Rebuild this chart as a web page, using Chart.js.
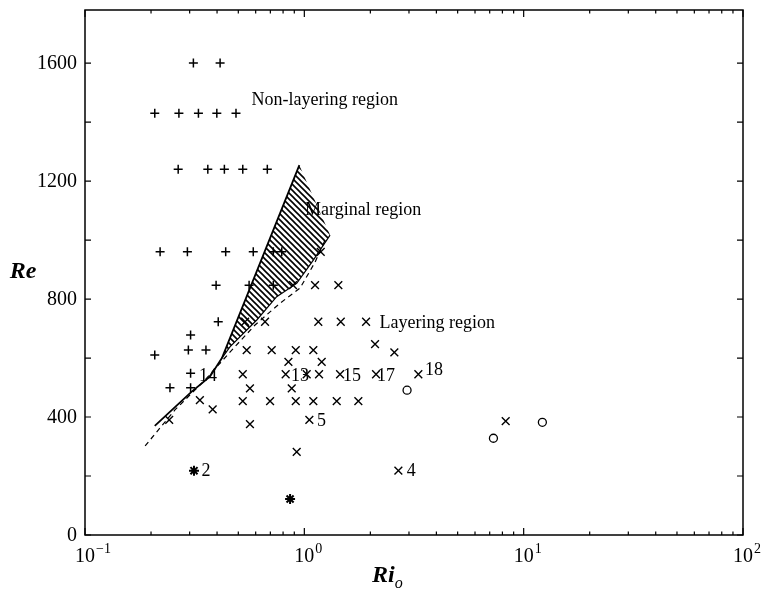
<!DOCTYPE html>
<html>
<head>
<meta charset="utf-8">
<script src="https://cdn.jsdelivr.net/npm/chart.js@4/dist/chart.umd.min.js"></script>
<style>
  html, body { margin: 0; padding: 0; background: #fff; }
  #wrap { width: 761px; height: 597px; }
</style>
</head>
<body>
<div id="wrap"><canvas id="chart" width="761" height="597"></canvas></div>
<script>
// non-layering runs (+)
const plusRi = [0.312, 0.413,
  0.208, 0.268, 0.329, 0.399, 0.488,
  0.266, 0.363, 0.432, 0.524, 0.678,
  0.220, 0.293, 0.438, 0.585, 0.722, 0.789,
  0.396, 0.560, 0.722,
  0.405, 0.303, 0.208, 0.296, 0.356, 0.303, 0.244, 0.303];
const plusRe = [1600, 1600,
  1430, 1430, 1430, 1430, 1430,
  1240, 1240, 1240, 1240, 1240,
  960, 960, 960, 960, 960, 960,
  847, 847, 847,
  723, 678, 610, 627, 627, 548, 499, 499];

// layering runs (x)
const crossRi = [1.188,
  0.888, 1.119, 1.429,
  0.537, 0.662, 1.158, 1.466, 1.912,
  2.101, 2.573,
  0.546, 0.710, 0.914, 1.099,
  0.846, 1.200,
  0.524, 0.822, 1.025, 1.167, 1.455, 2.123, 3.31,
  0.565, 0.876,
  0.334, 0.524, 0.698, 0.914, 1.099, 1.405, 1.763,
  0.382, 0.242, 1.054, 0.565, 0.923, 2.684, 8.28];
const crossRe = [960,
  847, 847, 847,
  723, 723, 723, 723, 723,
  647, 619,
  627, 627, 627, 627,
  587, 587,
  545, 545, 545, 545, 545, 545, 545,
  497, 497,
  457, 454, 454, 454, 454, 454, 454,
  426, 390, 390, 376, 282, 218, 386];

const circleRi = [2.94, 7.28, 12.17];
const circleRe = [491, 328, 382];

const starRi = [0.314, 0.861];
const starRe = [218, 122];

// marginal region (hatched) and its boundaries
const marginRi = [0.421, 0.949, 1.31, 1.099, 0.923, 0.748, 0.607, 0.458, 0.421];
const marginRe = [600, 1254, 1017, 932, 853, 808, 729, 638, 600];
const solidRi = [0.208, 0.3065, 0.371, 0.421, 0.949];
const solidRe = [370, 486, 537, 600, 1254];
const edgeRi = [1.31, 1.099, 0.923, 0.748, 0.607, 0.458, 0.421];
const edgeRe = [1017, 932, 853, 808, 729, 638, 600];
const dashRi = [0.188, 0.257, 0.352, 0.458, 0.596, 0.775, 0.956, 1.119, 1.243];
const dashRe = [302, 424, 525, 620, 712, 786, 837, 925, 1000];

// run numbers
const runText = ['14', '13', '15', '17', '18', '5', '2', '4'];
const runRi = [0.331, 0.870, 1.501, 2.145, 3.55, 1.143, 0.340, 2.93];
const runRe = [537, 539, 539, 539, 559, 384, 215, 215];

const regionText = ['Non-layering region', 'Marginal region', 'Layering region'];
const regionRi = [0.575, 1.007, 2.20];
const regionRe = [1475, 1102, 717];

const xDecades = [0.1, 1, 10, 100];
const xExps = ['\u22121', '0', '1', '2'];
const yLabelled = [0, 400, 800, 1200, 1600];

const pts = (xs, ys) => xs.map((x, i) => ({x: x, y: ys[i]}));
const SERIF = '"Liberation Serif", "DejaVu Serif", serif';

function hatch() {
    const c = document.createElement('canvas');
    c.width = 6; c.height = 6;
    const g = c.getContext('2d');
    g.strokeStyle = '#000';
    g.lineWidth = 1.6;
    g.beginPath();
    g.moveTo(-1, -1); g.lineTo(7, 7);
    g.moveTo(-4, 2); g.lineTo(4, 10);
    g.moveTo(2, -4); g.lineTo(10, 4);
    g.stroke();
    return g.createPattern(c, 'repeat');
}

const decor = {
    id: 'decor',
    afterDraw(chart) {
        const {ctx, chartArea: a, scales: {x, y}} = chart;
        ctx.save();
        ctx.strokeStyle = '#000';
        ctx.fillStyle = '#000';
        ctx.lineWidth = 1.5;
        ctx.strokeRect(a.left, a.top, a.right - a.left, a.bottom - a.top);

        // inward ticks
        ctx.lineWidth = 1.2;
        ctx.beginPath();
        for (let v = 0; v <= 1600; v += 200) {
            const py = y.getPixelForValue(v);
            ctx.moveTo(a.left, py); ctx.lineTo(a.left + 6, py);
            ctx.moveTo(a.right, py); ctx.lineTo(a.right - 6, py);
        }
        for (let d = 0.1; d < 100; d *= 10) {
            for (let m = 1; m <= 10; m++) {
                const px = x.getPixelForValue(d * m);
                const len = (m === 1 || m === 10) ? 7 : 3.5;
                ctx.moveTo(px, a.bottom); ctx.lineTo(px, a.bottom - len);
                ctx.moveTo(px, a.top); ctx.lineTo(px, a.top + len);
            }
        }
        ctx.stroke();

        // y tick labels
        ctx.font = '20px ' + SERIF;
        ctx.textAlign = 'right';
        ctx.textBaseline = 'middle';
        yLabelled.forEach((v) => {
            ctx.fillText(String(v), a.left - 8, y.getPixelForValue(v) + 1);
        });

        // x tick labels 10^n
        xDecades.forEach((v, i) => {
            const px = x.getPixelForValue(v);
            ctx.font = '20px ' + SERIF;
            ctx.textAlign = 'center';
            ctx.textBaseline = 'alphabetic';
            ctx.fillText('10', px, a.bottom + 27);
            const w = ctx.measureText('10').width;
            ctx.font = '14px ' + SERIF;
            ctx.textAlign = 'left';
            ctx.fillText(xExps[i], px + w / 2 + 1, a.bottom + 18);
        });

        // axis titles
        ctx.font = 'italic bold 24px ' + SERIF;
        ctx.textAlign = 'center';
        ctx.textBaseline = 'middle';
        ctx.fillText('Re', 23, 272);
        ctx.textAlign = 'left';
        ctx.textBaseline = 'alphabetic';
        ctx.fillText('Ri', 372, 582);
        const rw = ctx.measureText('Ri').width;
        ctx.font = 'italic 16px ' + SERIF;
        ctx.fillText('o', 372 + rw, 588);

        // region names and run numbers
        ctx.font = '18px ' + SERIF;
        ctx.textBaseline = 'middle';
        regionText.forEach((t, i) => {
            ctx.fillText(t, x.getPixelForValue(regionRi[i]), y.getPixelForValue(regionRe[i]));
        });
        runText.forEach((t, i) => {
            ctx.fillText(t, x.getPixelForValue(runRi[i]), y.getPixelForValue(runRe[i]));
        });
        ctx.restore();
    }
};

const lineStyle = {type: 'line', pointRadius: 0, borderColor: '#000', tension: 0, fill: false};

new Chart(document.getElementById('chart'), {
    type: 'scatter',
    data: {
        datasets: [
            {type: 'line', data: pts(marginRi, marginRe), pointRadius: 0, borderWidth: 0,
                borderColor: 'rgba(0,0,0,0)', backgroundColor: hatch(), fill: 'shape', tension: 0},
            Object.assign({data: pts(solidRi, solidRe), borderWidth: 1.8}, lineStyle),
            Object.assign({data: pts(edgeRi, edgeRe), borderWidth: 1.2}, lineStyle),
            Object.assign({data: pts(dashRi, dashRe), borderWidth: 1.2, borderDash: [5, 4]}, lineStyle),
            {data: pts(plusRi, plusRe), pointStyle: 'cross', pointRadius: 4.5, borderWidth: 1.5,
                borderColor: '#000'},
            {data: pts(crossRi, crossRe), pointStyle: 'crossRot', pointRadius: 5.5, borderWidth: 1.4,
                borderColor: '#000'},
            {data: pts(circleRi, circleRe), pointStyle: 'circle', pointRadius: 4, borderWidth: 1.3,
                borderColor: '#000', backgroundColor: '#fff'},
            {data: pts(starRi, starRe), pointStyle: 'star', pointRadius: 5, borderWidth: 2,
                borderColor: '#000'}
        ]
    },
    options: {
        responsive: false,
        animation: false,
        devicePixelRatio: 1,
        layout: {padding: {left: 0, right: 18, top: 10, bottom: 0}},
        plugins: {legend: {display: false}, tooltip: {enabled: false}},
        scales: {
            x: {
                type: 'logarithmic',
                min: 0.1,
                max: 100,
                grid: {display: false},
                border: {display: false},
                ticks: {display: false},
                afterFit: (s) => { s.height = 62; }
            },
            y: {
                min: 0,
                max: 1780,
                grid: {display: false},
                border: {display: false},
                ticks: {display: false},
                afterFit: (s) => { s.width = 85; }
            }
        }
    },
    plugins: [decor]
});
</script>
</body>
</html>
